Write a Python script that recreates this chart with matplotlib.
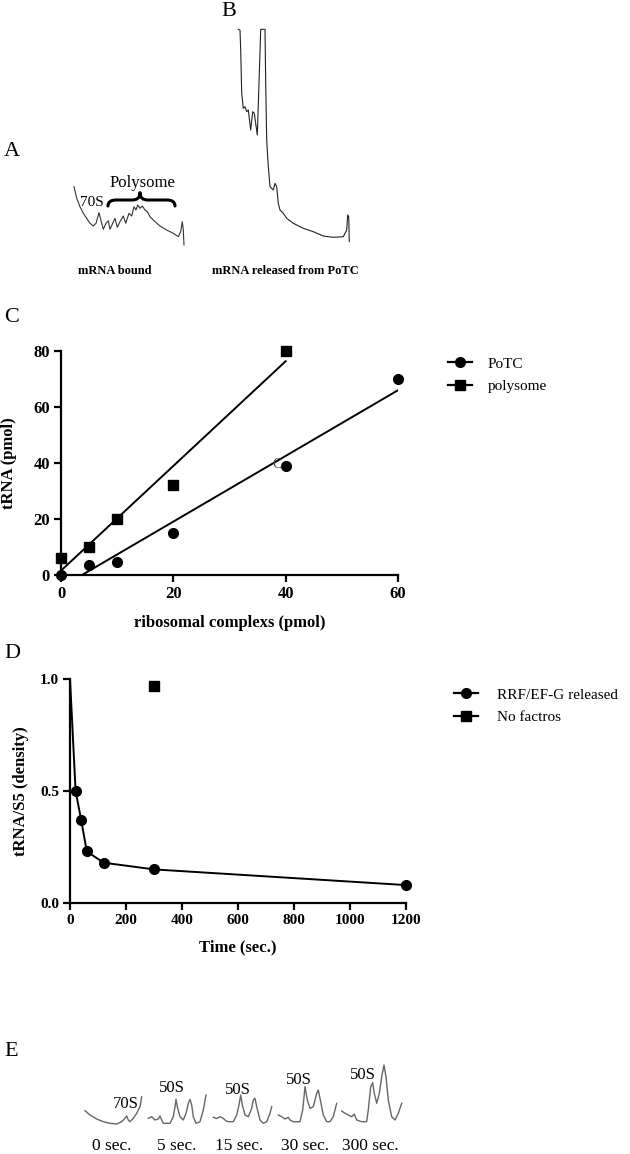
import numpy as np
import matplotlib
matplotlib.use("Agg")
import matplotlib.pyplot as plt
from matplotlib.lines import Line2D
from matplotlib.path import Path
from matplotlib.patches import PathPatch

plt.rcParams['font.family'] = ['Liberation Serif', 'DejaVu Serif']

# ---- data -------------------------------------------------------------
# panel C : tRNA released vs ribosomal complexes
potc_x = [0, 5, 10, 20, 40, 60]
potc_y = [0, 3.5, 4.5, 15, 39, 70]
poly_x = [0, 5, 10, 20, 40]
poly_y = [6, 10, 20, 32, 80]

# panel D : tRNA/S5 over time
rrf_t = [0, 20, 40, 60, 120, 300, 1200]
rrf_y = [1.0, 0.50, 0.37, 0.23, 0.18, 0.15, 0.08]
nof_t = [300]
nof_y = [0.97]

# panel A / B / E : gradient traces (figure pixel units)
traceA_x = [74.0, 76.7, 80.0, 83.3, 86.7, 90.0, 93.3, 96.0, 99.0, 101.7, 103.3, 106.0,
            108.3, 110.0, 112.7, 115.0, 117.3, 120.0, 123.3, 125.7, 129.0, 131.7, 134.0,
            136.0, 137.7, 140.0, 142.3, 145.0, 147.3, 150.0, 155.0, 160.0, 166.7, 173.3,
            178.3, 180.7, 182.3, 183.3, 184.0]
traceA_y = [186.7, 198.3, 206.7, 213.3, 218.3, 223.3, 226.0, 223.3, 212.7, 223.3, 229.3,
            223.3, 220.7, 229.3, 223.3, 218.3, 227.3, 221.7, 216.0, 223.3, 213.3, 216.0,
            206.7, 210.0, 205.0, 208.3, 206.0, 210.0, 211.7, 216.7, 221.7, 226.0, 230.0,
            233.3, 236.7, 231.7, 221.7, 230.0, 245.0]

traceB_x = [238.3, 240.0, 240.7, 241.7, 243.3, 245.0, 246.7, 248.3, 250.7, 252.7, 254.3,
            257.3, 259.0, 260.7, 265.0, 265.7, 266.7, 268.3, 270.0, 273.3, 275.0, 276.7,
            278.3, 280.0, 283.3, 286.7, 293.3, 303.3, 313.3, 323.3, 333.3, 343.3, 346.7,
            347.7, 348.7, 349.3]
traceB_y = [29.3, 30.0, 50.0, 93.0, 108.3, 106.7, 111.7, 110.0, 130.0, 111.7, 113.3,
            135.0, 83.3, 29.3, 29.3, 83.3, 140.0, 166.7, 186.7, 190.0, 183.3, 186.7,
            203.3, 210.0, 213.3, 218.3, 223.3, 228.3, 231.7, 236.0, 237.3, 236.7, 230.0,
            215.0, 216.7, 241.7]

tracesE = [
    ([85, 90, 96.7, 103.3, 110, 116.7, 121.7, 125, 126.7, 128.3, 130, 133.3, 136.7, 140, 141.7],
     [1110.7, 1115, 1119, 1121.7, 1123.3, 1124, 1121.7, 1118.3, 1116, 1120, 1121.7, 1118.3,
      1113.3, 1106.7, 1096.7]),
    ([148.3, 151.7, 155, 158.3, 160, 161.7, 163.3, 170, 173.3, 175, 176, 177.3, 180, 183.3,
      186, 188.3, 190, 191.7, 193.3, 196, 200, 203.3, 206],
     [1118.3, 1116.7, 1120, 1119, 1116, 1120, 1123.3, 1123.3, 1116.7, 1106.7, 1099.3, 1106.7,
      1116.7, 1120, 1113.3, 1103.3, 1099.3, 1105, 1116.7, 1123.3, 1121.7, 1110, 1095]),
    ([213.3, 216.7, 220, 223.3, 225.7, 228.3, 233.3, 236.7, 239, 240.7, 242.3, 245, 248.3,
      251.7, 253.3, 255, 256.7, 260, 263.3, 266.7, 270, 271.7],
     [1117.3, 1118.5, 1116.7, 1118.3, 1120.7, 1121.7, 1121.7, 1115, 1105, 1095, 1105, 1115,
      1116.7, 1108.3, 1100, 1098.3, 1106.7, 1120, 1123.3, 1121.7, 1113.3, 1106.7]),
    ([278.3, 281.7, 285, 288.3, 290, 293.3, 300, 302.7, 305, 307.3, 310, 313.3, 316.7, 318.3,
      320, 323.3, 326.7, 330, 333.3, 336.7],
     [1115, 1116.7, 1119, 1117.3, 1120, 1121.7, 1121.7, 1110, 1086.7, 1100, 1108.3, 1106.7,
      1093.3, 1090, 1098.3, 1115, 1121.7, 1121.7, 1116.7, 1103.3]),
    ([341.7, 345, 348.3, 351.7, 354.3, 356.7, 361.7, 366.7, 368.3, 370.7, 372.7, 374.3, 376.7,
      379.3, 381.7, 384, 386, 388.3, 391.7, 395, 398.3, 401.7],
     [1111, 1113.3, 1115, 1116.7, 1114, 1120, 1121.7, 1121.7, 1110, 1086.7, 1082.7, 1093.3,
      1103.3, 1093.3, 1076.7, 1065, 1076.7, 1100, 1116.7, 1120, 1113.3, 1103.3]),
]
timesE = ['0 sec.', '5 sec.', '15 sec.', '30 sec.', '300 sec.']
peakE = ['70S', '50S', '50S', '50S', '50S']

W, H = 630, 1154
fig = plt.figure(figsize=(W / 100, H / 100), dpi=100)


def box(left, top, right, bottom):
    return [left / W, 1 - bottom / H, (right - left) / W, (bottom - top) / H]


# overlay in pixel units for the gradient panels and letters
ov = fig.add_axes([0, 0, 1, 1])
ov.set_xlim(0, W)
ov.set_ylim(H, 0)
ov.axis('off')

for lab, (lx, ly) in zip('ABCDE', [(12, 151), (229, 12), (12, 318), (12, 653), (11, 1051)]):
    ov.text(lx, ly, lab, fontsize=16, ha='center', va='center')

# A
ov.plot(traceA_x, traceA_y, color='#333333', lw=0.8)
ov.text(92, 202, '70S', fontsize=11, ha='center', va='center')
ov.text(142.5, 183, 'Polysome', fontsize=12, ha='center', va='center')
bx0, bx1, bxm, byb, bym, byt, bh = 108, 175, 140, 206, 200, 193, 8
brace = Path([(bx0, byb), (bx0, bym), (bx0 + bh, bym), (bxm - bh, bym),
              (bxm, bym), (bxm, byt), (bxm, byt), (bxm, bym), (bxm + bh, bym),
              (bx1 - bh, bym), (bx1, bym), (bx1, byb)],
             [Path.MOVETO, Path.CURVE3, Path.CURVE3, Path.LINETO,
              Path.CURVE3, Path.CURVE3, Path.MOVETO, Path.CURVE3, Path.CURVE3,
              Path.LINETO, Path.CURVE3, Path.CURVE3])
ov.add_patch(PathPatch(brace, fill=False, lw=2.2, color='black', capstyle='round'))
ov.text(115, 271, 'mRNA bound', fontsize=9, fontweight='bold', ha='center', va='center')

# B
ov.plot(traceB_x, traceB_y, color='#222222', lw=0.8)
ov.text(285, 271, 'mRNA released from PoTC', fontsize=9, fontweight='bold',
        ha='center', va='center')

# E
for (ex, ey), tlab, plab, lx, px, py in zip(tracesE, timesE, peakE,
                                            [111.7, 176.7, 239, 305, 370],
                                            [126, 172, 238, 299, 363],
                                            [1104, 1088, 1090, 1080, 1075]):
    ov.plot(ex, ey, color='#666666', lw=1.0)
    ov.text(lx, 1146, tlab, fontsize=12.5, ha='center', va='center')
    ov.text(px, py, plab, fontsize=12, ha='center', va='center')


def style(ax, tick_size):
    for s in ['top', 'right']:
        ax.spines[s].set_visible(False)
    for s in ['left', 'bottom']:
        ax.spines[s].set_linewidth(1.6)
    ax.tick_params(direction='out', length=5, width=1.6, labelsize=tick_size, pad=3)
    for t in ax.get_xticklabels() + ax.get_yticklabels():
        t.set_fontweight('bold')


# C
axc = fig.add_axes(box(61, 351, 398, 575))
axc.set_xlim(0, 60)
axc.set_ylim(0, 80)
axc.set_xticks([0, 20, 40, 60])
axc.set_yticks([0, 20, 40, 60, 80])
for xs, ys, mk, ms in [(potc_x, potc_y, 'o', 7), (poly_x, poly_y, 's', 6.5)]:
    k, b = np.polyfit(xs, ys, 1)
    xx = np.array([min(xs), max(xs)])
    axc.plot(xx, k * xx + b, color='black', lw=1.4)
    axc.plot(xs, ys, ls='none', marker=mk, ms=ms, color='black', clip_on=False, zorder=3)
axc.text(38.4, 39.6, 'C', fontsize=10, color='#444444', ha='center', va='center')
axc.set_xlabel('ribosomal complexs (pmol)', fontsize=12, fontweight='bold', labelpad=9)
axc.set_ylabel('tRNA (pmol)', fontsize=12, fontweight='bold', labelpad=12)
style(axc, 12)
hc = [Line2D([], [], color='black', lw=1.6, marker='o', ms=7),
      Line2D([], [], color='black', lw=1.6, marker='s', ms=6.5)]
axc.legend(hc, ['PoTC', 'polysome'], loc='center left', frameon=False, fontsize=11,
           bbox_to_anchor=(448 / W, 1 - 375 / H), bbox_transform=fig.transFigure,
           borderpad=0, borderaxespad=0, handlelength=1.6, handletextpad=1.0,
           labelspacing=0.55)

# D
axd = fig.add_axes(box(70, 679, 406, 903))
axd.plot(rrf_t, rrf_y, color='black', lw=1.4, marker='o', ms=7,
         markevery=slice(1, None), clip_on=False, zorder=3)
axd.plot(nof_t, nof_y, ls='none', marker='s', ms=6.5, color='black', clip_on=False)
axd.set_xlim(0, 1200)
axd.set_ylim(0, 1.0)
axd.set_xticks(range(0, 1201, 200))
axd.set_yticks([0.0, 0.5, 1.0])
axd.set_yticklabels(['0.0', '0.5', '1.0'])
axd.set_xlabel('Time (sec.)', fontsize=12, fontweight='bold', labelpad=9)
axd.set_ylabel('tRNA/S5 (density)', fontsize=12, fontweight='bold', labelpad=8)
style(axd, 11)
hd = [Line2D([], [], color='black', lw=1.6, marker='o', ms=7),
      Line2D([], [], color='black', lw=1.6, marker='s', ms=6.5)]
axd.legend(hd, ['RRF/EF-G released', 'No factros'], loc='center left', frameon=False,
           fontsize=11, bbox_to_anchor=(454 / W, 1 - 706 / H),
           bbox_transform=fig.transFigure, borderpad=0, borderaxespad=0,
           handlelength=1.6, handletextpad=1.2, labelspacing=0.55)

fig.savefig('out.png', dpi=100)
